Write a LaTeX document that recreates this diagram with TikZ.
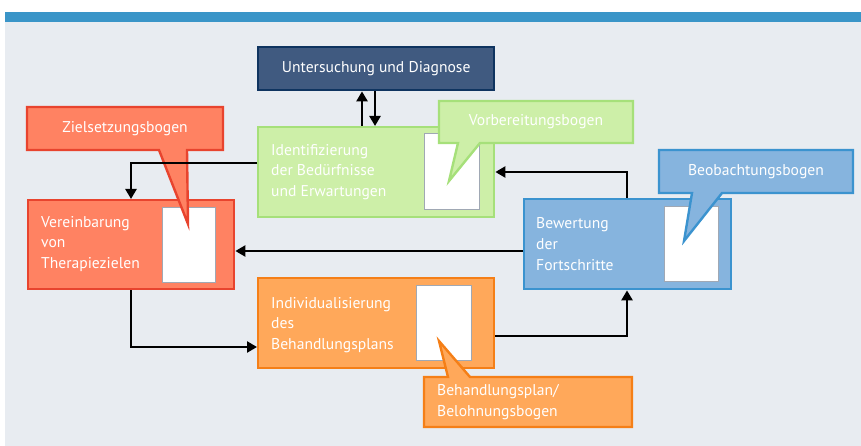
\documentclass[tikz,border=0pt]{standalone}
\usepackage{fontspec}
\setmainfont{PT Sans}
\usetikzlibrary{arrows.meta}
\definecolor{barblue}{HTML}{3A95C8}
\definecolor{bgc}{HTML}{E8ECF1}
\definecolor{untfill}{HTML}{405A80}
\definecolor{untdraw}{HTML}{0F3460}
\definecolor{grfill}{HTML}{CDEFA8}
\definecolor{grdraw}{HTML}{A6E07A}
\definecolor{rdfill}{HTML}{FF8262}
\definecolor{rddraw}{HTML}{E8442E}
\definecolor{orfill}{HTML}{FFA85A}
\definecolor{ordraw}{HTML}{F57F17}
\definecolor{blfill}{HTML}{86B4DE}
\definecolor{bldraw}{HTML}{3B93CF}
\definecolor{papdraw}{HTML}{A0A8B4}
\tikzset{
  boxc/.style={draw, line width=2.4pt, inner sep=0pt, anchor=north west},
  paper/.style={draw=papdraw, fill=white, line width=0.9pt, inner sep=0pt, anchor=north west},
  txt/.style={text=white, font=\fontsize{15.6}{20.8}\selectfont, align=left, inner sep=0pt, anchor=west},
  ctxt/.style={text=white, font=\fontsize{15.6}{20.8}\selectfont, inner sep=0pt},
  callout/.style={line width=2.4pt, line join=miter},
  arr/.style={line width=2.6pt, -{Triangle[length=10pt,width=11pt]}},
}
\begin{document}
\begin{tikzpicture}[x=1pt,y=-1pt]
\useasboundingbox (0,0) rectangle (861,446);
\fill[bgc] (5,22) rectangle (861,446);
\fill[barblue] (5,12) rectangle (861,22.5);

% main boxes
\node[boxc, draw=untdraw, fill=untfill, minimum width=236pt, minimum height=43pt] (unt) at (257,46) {};
\node[ctxt] (untt) at (unt.center) {Untersuchung und Diagnose};

\node[boxc, draw=grdraw, fill=grfill, minimum width=236pt, minimum height=90pt] (ident) at (257,126) {};
\node[paper, minimum width=55pt, minimum height=76pt] (p1) at (424,133) {};
\node[txt] (identt) at (271,172) {Identifizierung\\der Bedürfnisse\\und Erwartungen};

\node[boxc, draw=rddraw, fill=rdfill, minimum width=206pt, minimum height=89pt] (vere) at (27,199) {};
\node[paper, minimum width=53pt, minimum height=75pt] (p2) at (162,207) {};
\node[txt] (veret) at (41,244) {Vereinbarung\\von\\Therapiezielen};

\node[boxc, draw=ordraw, fill=orfill, minimum width=236pt, minimum height=90pt] (indiv) at (257,277) {};
\node[paper, minimum width=55pt, minimum height=75pt] (p3) at (416,285) {};
\node[txt] (indivt) at (271,325) {Individualisierung\\des\\Behandlungsplans};

\node[boxc, draw=bldraw, fill=blfill, minimum width=207pt, minimum height=90pt] (bew) at (523,198) {};
\node[paper, minimum width=54pt, minimum height=75pt] (p4) at (664,206) {};
\node[txt] (bewt) at (536,244) {Bewertung\\der\\Fortschritte};

% callouts
\draw[callout, draw=rddraw, fill=rdfill] (27,107) -- (223,107) -- (223,150) -- (187,150) -- (188,224) -- (159,150) -- (27,150) -- cycle;
\node[ctxt] (zielt) at (125,128.5) {Zielsetzungsbogen};

\draw[callout, draw=grdraw, fill=grfill] (439,101) -- (633,101) -- (633,143) -- (480,143) -- (449,181) -- (458,143) -- (439,143) -- cycle;
\node[ctxt] (vorbt) at (536,122) {Vorbereitungsbogen};

\draw[callout, draw=bldraw, fill=blfill] (659,150) -- (853,150) -- (853,193) -- (722,193) -- (684,241) -- (692,193) -- (659,193) -- cycle;
\node[ctxt] (beobt) at (756,171.5) {Beobachtungsbogen};

\draw[callout, draw=ordraw, fill=orfill] (424,377) -- (448,377) -- (439,341) -- (470,377) -- (632,377) -- (632,427) -- (424,427) -- cycle;
\node[txt] (behat) at (437,402) {Behandlungsplan/\\Belohnungsbogen};

% connectors
\coordinate (ku) at (362,0);
\coordinate (kd) at (375,0);
\draw[arr] (ident.north -| ku) -- (unt.south -| ku);
\draw[arr] (unt.south -| kd) -- (ident.north -| kd);

\coordinate (k1) at (131,163);
\draw[arr] (k1 -| ident.west) -- (k1) -- (k1 |- vere.north);

\coordinate (k2) at (0,251);
\draw[arr] (k2 -| bew.west) -- (k2 -| vere.east);

\coordinate (k3) at (131,347);
\draw[arr] (k3 |- vere.south) -- (k3) -- (k3 -| indiv.west);

\coordinate (k4) at (627,336);
\draw[arr] (k4 -| indiv.east) -- (k4) -- (k4 |- bew.south);

\coordinate (k5) at (627,172);
\draw[arr] (k5 |- bew.north) -- (k5) -- (k5 -| ident.east);
\end{tikzpicture}
\end{document}
